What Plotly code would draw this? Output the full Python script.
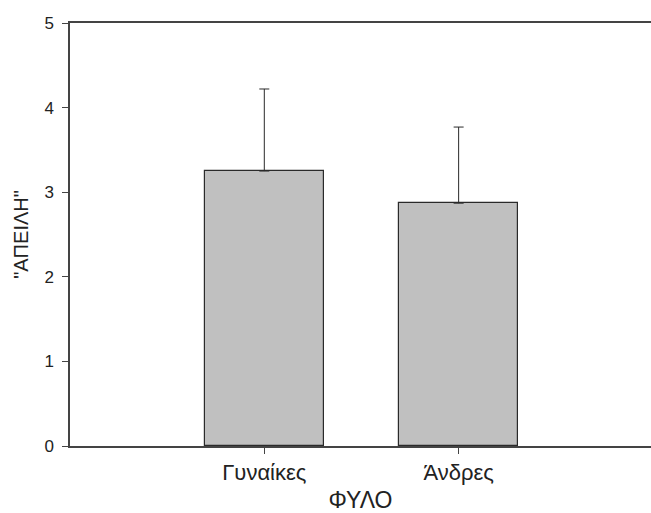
import plotly.graph_objects as go

categories = ["Γυναίκες", "Άνδρες"]
means = [3.25, 2.87]
errors_plus = [0.97, 0.90]
y_ticks = [0, 1, 2, 3, 4, 5]
x_title = "ΦΥΛΟ"
y_title = "\"ΑΠΕΙΛΗ\""

fig = go.Figure()
fig.add_trace(go.Bar(
    x=[0, 1], y=means, width=0.61,
    marker=dict(color="#c0c0c0", line=dict(color="#2a2a2a", width=1.2)),
    error_y=dict(type="data", array=errors_plus, symmetric=False,
                 arrayminus=[0, 0], color="#2a2a2a", thickness=1, width=5),
    showlegend=False, hoverinfo="skip",
))

base = "Liberation Sans, Arial, sans-serif"
fig.update_layout(
    width=651, height=513,
    margin=dict(l=70, r=0, t=23, b=67, autoexpand=False),
    plot_bgcolor="white", paper_bgcolor="white",
    font=dict(family=base, size=17, color="#111"),
    bargap=0,
)
fig.update_xaxes(
    range=[-1.0, 1.99], tickvals=[0, 1], ticktext=categories,
    tickfont=dict(family=base, size=22, color="#222"),
    showline=True, linecolor="#444", linewidth=1.5, mirror=True,
    ticks="outside", ticklen=6, tickcolor="#444",
    showgrid=False, zeroline=False, automargin=True,
    title=dict(text=x_title, standoff=12, font=dict(family=base, size=23, color="#222")),
)
fig.update_yaxes(
    range=[0, 5], tickvals=y_ticks,
    tickfont=dict(family=base, size=17, color="#222"),
    ticklabelstandoff=5,
    showline=True, linecolor="#444", linewidth=1.5,
    ticks="outside", ticklen=6, tickcolor="#444",
    showgrid=False, zeroline=False, automargin=False,
    title=dict(text=y_title, standoff=10, font=dict(family=base, size=20, color="#222")),
)
fig.write_html("out.html", config={"displayModeBar": False},
               post_script="document.body.style.margin='0';document.body.style.overflow='hidden';")
